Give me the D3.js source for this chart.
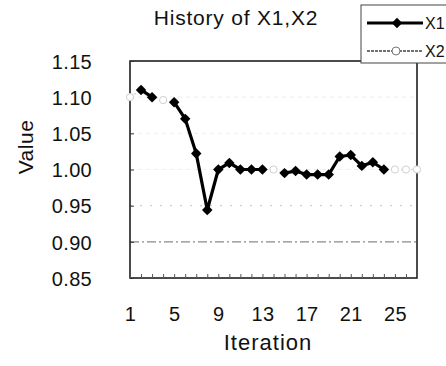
<!DOCTYPE html>
<html>
<head>
<meta charset="utf-8">
<script src="https://cdn.jsdelivr.net/npm/d3@7"></script>
<style>
  html, body { margin: 0; padding: 0; background: #fff; }
  svg { display: block; font-family: "Liberation Sans", Arial, sans-serif; }
</style>
</head>
<body>
<svg id="chart" width="446" height="366"></svg>
<script>
// ---- data ----
const iterations = d3.range(1, 28);
// X1: gaps (null) where the line is hidden in the reference
const x1Values = [null, 1.110, 1.100, null, 1.093, 1.070, 1.022, 0.944, 1.000, 1.009,
                  1.000, 1.000, 1.000, null, 0.995, 0.998, 0.993, 0.993, 0.993, 1.018,
                  1.020, 1.005, 1.010, 1.000, null, null, null];
const x2Values = [1.100, 1.110, 1.100, 1.096, 1.093, 1.070, 1.022, 0.944, 1.000, 1.009,
                  1.000, 1.000, 1.000, 1.000, 0.995, 0.998, 0.993, 0.993, 0.993, 1.018,
                  1.020, 1.005, 1.010, 1.000, 1.000, 1.000, 1.000];
const yTicks = [0.85, 0.90, 0.95, 1.00, 1.05, 1.10, 1.15];
const xTicks = [1, 5, 9, 13, 17, 21, 25];
const seriesNames = ["X1", "X2"];
const titleText = "History of X1,X2";

// ---- layout ----
const svg = d3.select("#chart");
const plot = { left: 130, right: 417, top: 61, bottom: 278 };

const x = d3.scaleLinear().domain([1, 27]).range([plot.left, plot.right]);
const y = d3.scaleLinear().domain([0.85, 1.15]).range([plot.bottom, plot.top]);

// gridlines
const gridStyle = v => Math.abs(v - 0.90) < 1e-9 ? { c: "#8a8a8a", d: "9,3,2,3" }
                   : Math.abs(v - 0.95) < 1e-9 ? { c: "#cfcfcf", d: "2,8" }
                   : { c: "#efefef", d: "4,4" };
svg.append("g").selectAll("line")
  .data(yTicks.filter(v => v > 0.86 && v < 1.14))
  .join("line")
  .attr("x1", plot.left).attr("x2", plot.right)
  .attr("y1", d => y(d)).attr("y2", d => y(d))
  .attr("stroke", d => gridStyle(d).c)
  .attr("stroke-width", 1.2)
  .attr("stroke-dasharray", d => gridStyle(d).d);

// plot border
svg.append("rect")
  .attr("x", plot.left).attr("y", plot.top)
  .attr("width", plot.right - plot.left).attr("height", plot.bottom - plot.top)
  .attr("fill", "none").attr("stroke", "#111").attr("stroke-width", 1.5);

// y axis (labels + inner ticks)
const yAxis = d3.axisLeft(y).tickValues(yTicks).tickFormat(d3.format(".2f")).tickSizeInner(-4).tickSizeOuter(0);
const gy = svg.append("g").attr("transform", `translate(${plot.left},0)`).call(yAxis);
gy.select(".domain").remove();
gy.selectAll(".tick line").attr("stroke", "#333");
gy.selectAll(".tick text").attr("x", -38).attr("dy", "0.36em").attr("font-size", 20).attr("fill", "#111")
  .attr("font-family", "Liberation Sans, Arial, sans-serif").attr("letter-spacing", "0.3px");

// x axis (labels) + inner minor ticks
const xAxis = d3.axisBottom(x).tickValues(xTicks).tickFormat(d3.format("d")).tickSize(0);
const gx = svg.append("g").attr("transform", `translate(0,${plot.bottom})`).call(xAxis);
gx.select(".domain").remove();
gx.selectAll(".tick text").attr("y", 43).attr("dy", 0).attr("font-size", 20).attr("fill", "#111")
  .attr("font-family", "Liberation Sans, Arial, sans-serif").attr("letter-spacing", "0.3px");
const xMinor = d3.axisBottom(x).tickValues(iterations).tickFormat("").tickSizeInner(-4).tickSizeOuter(0);
const gxm = svg.append("g").attr("transform", `translate(0,${plot.bottom})`).call(xMinor);
gxm.select(".domain").remove();
gxm.selectAll(".tick line").attr("stroke", "#555");

// axis titles
svg.append("text").attr("x", 268).attr("y", 350).attr("text-anchor", "middle")
  .attr("font-size", 22).attr("fill", "#111").attr("letter-spacing", "1px").text("Iteration");
svg.append("text").attr("transform", "translate(33,147) rotate(-90)").attr("text-anchor", "middle")
  .attr("font-size", 21).attr("fill", "#111").attr("letter-spacing", "0.5px").text("Value");

// title
svg.append("text").attr("x", 236).attr("y", 25).attr("text-anchor", "middle")
  .attr("font-size", 21).attr("fill", "#111").attr("letter-spacing", "0.8px").text(titleText);

// X2 series (light, underneath)
const x2Data = iterations.map((it, i) => ({ it, v: x2Values[i] }));
const line = d3.line().defined(d => d.v != null).x(d => x(d.it)).y(d => y(d.v));
svg.append("path").datum(x2Data).attr("d", line)
  .attr("fill", "none").attr("stroke", "#d8d8d8").attr("stroke-width", 1.5).attr("stroke-dasharray", "2,3");
svg.append("g").selectAll("circle").data(x2Data).join("circle")
  .attr("cx", d => x(d.it)).attr("cy", d => y(d.v)).attr("r", 3.6)
  .attr("fill", "#fff").attr("stroke", "#d0d0d0").attr("stroke-width", 1);

// X1 series (black, diamonds)
const x1Data = iterations.map((it, i) => ({ it, v: x1Values[i] }));
svg.append("path").datum(x1Data).attr("d", line)
  .attr("fill", "none").attr("stroke", "#000").attr("stroke-width", 3.2).attr("stroke-linejoin", "round");
const diamond = d3.symbol().type(d3.symbolDiamond2).size(70);
svg.append("g").selectAll("path").data(x1Data.filter(d => d.v != null)).join("path")
  .attr("transform", d => `translate(${x(d.it)},${y(d.v)})`).attr("d", diamond).attr("fill", "#000");

// legend
const lg = svg.append("g");
lg.append("rect").attr("x", 361).attr("y", 5).attr("width", 100).attr("height", 58)
  .attr("fill", "#fff").attr("stroke", "#444").attr("stroke-width", 1);
const legendItems = [
  { name: seriesNames[0], yy: 23 },
  { name: seriesNames[1], yy: 51 }
];
lg.append("line").attr("x1", 367).attr("x2", 423).attr("y1", legendItems[0].yy).attr("y2", legendItems[0].yy)
  .attr("stroke", "#000").attr("stroke-width", 3);
lg.append("path").attr("transform", `translate(397,${legendItems[0].yy})`).attr("d", diamond).attr("fill", "#000");
lg.append("line").attr("x1", 367).attr("x2", 423).attr("y1", legendItems[1].yy).attr("y2", legendItems[1].yy)
  .attr("stroke", "#444").attr("stroke-width", 1.6).attr("stroke-dasharray", "3,1");
lg.append("circle").attr("cx", 396).attr("cy", legendItems[1].yy).attr("r", 4)
  .attr("fill", "#fff").attr("stroke", "#777").attr("stroke-width", 1);
lg.selectAll("text.lab").data(legendItems).join("text").attr("class", "lab")
  .attr("x", 425).attr("y", d => d.yy + 6).attr("font-size", 16).attr("fill", "#111").text(d => d.name);
</script>
</body>
</html>
